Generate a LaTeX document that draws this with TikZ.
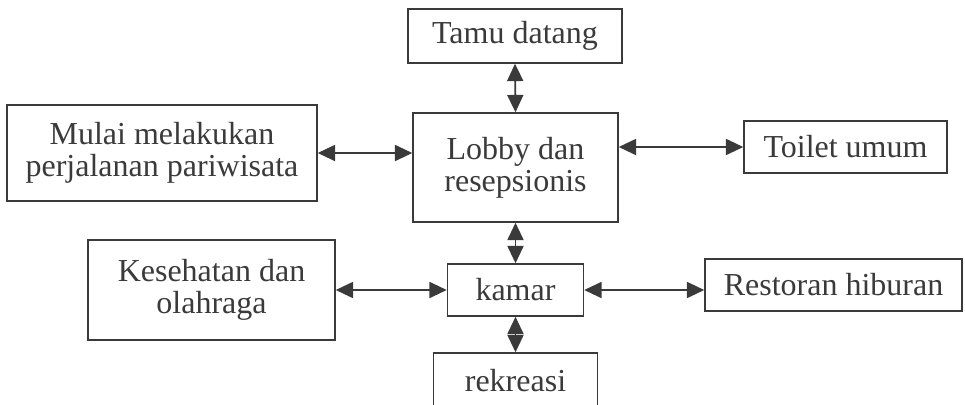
\documentclass[tikz,border=0pt]{standalone}
\usepackage{fontspec}
\setmainfont{Liberation Serif}
\usetikzlibrary{arrows.meta}

\definecolor{ink}{HTML}{3A3A3A}

\begin{document}
\begin{tikzpicture}[
                    x=0.75pt, y=-0.75pt,
                    >={Triangle[length=13pt,width=12pt]},
                    box/.style={draw=ink, line width=1.1pt, text=ink, align=center,
                                inner sep=0pt, font=\fontsize{24}{24}\selectfont},
                    link/.style={<->, draw=ink, line width=1.4pt},
                ]
                \useasboundingbox (0,0) rectangle (965,404);

                \node[box,minimum width=214*0.75pt,minimum height=54*0.75pt] (tamu) at (515,36) {Tamu datang};
                \node[box,minimum width=205*0.75pt,minimum height=109*0.75pt] (lobby) at (515.5,167.5) {Lobby dan\\resepsionis};
                \node[box,minimum width=310*0.75pt,minimum height=96*0.75pt] (mulai) at (162,153) {Mulai melakukan\\perjalanan pariwisata};
                \node[box,minimum width=203*0.75pt,minimum height=52*0.75pt] (toilet) at (845.5,147) {Toilet umum};
                \node[box,minimum width=247*0.75pt,minimum height=100*0.75pt] (sehat) at (211.5,290) {Kesehatan dan\\olahraga};
                \node[box,minimum width=136*0.75pt,minimum height=52*0.75pt] (kamar) at (515.5,290) {kamar};
                \node[box,minimum width=257*0.75pt,minimum height=52*0.75pt] (resto) at (833.5,285) {Restoran hiburan};
                \node[box,minimum width=164*0.75pt,minimum height=56*0.75pt] (rekreasi) at (515.5,381) {rekreasi};

                \draw[link] (tamu.south) -- (lobby.north);
                \draw[link] (mulai.east) -- (mulai.east -| lobby.west);
                \draw[link] (lobby.east |- toilet.west) -- (toilet.west);
                \draw[link] (lobby.south) -- (kamar.north);
                \draw[link] (sehat.east) -- (kamar.west);
                \draw[link] (kamar.east) -- (kamar.east -| resto.west);
                \draw[link] (kamar.south) -- (rekreasi.north);
            \end{tikzpicture}
\end{document}
